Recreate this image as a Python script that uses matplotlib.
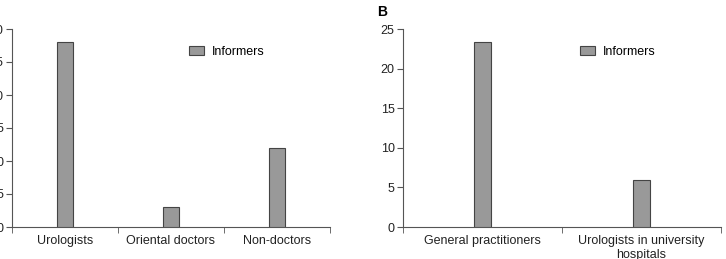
import numpy as np
import matplotlib.pyplot as plt

plt.rcParams['font.family'] = ['Liberation Sans', 'DejaVu Sans']

# Panel A
cats_a = ["Urologists", "Oriental doctors", "Non-doctors"]
vals_a = [28, 3, 12]
# Panel B
cats_b = ["General practitioners", "Urologists in university\nhospitals"]
vals_b = [23.4, 5.9]

bar_color = "#999999"
edge_color = "#444444"
axis_color = "#555555"

fig = plt.figure(figsize=(7.26, 2.59), dpi=100)
W, H = 726, 259
ax_a = fig.add_axes([12 / W, 1 - 227 / H, 318 / W, 198 / H])
ax_b = fig.add_axes([403 / W, 1 - 227 / H, 318 / W, 198 / H])


def draw(ax, cats, vals, ymax, width):
    x = np.arange(len(cats))
    ax.bar(x, vals, width=width, color=bar_color, edgecolor=edge_color,
           linewidth=0.8, label="Informers", zorder=3)
    ax.set_xlim(-0.5, len(cats) - 0.5)
    ax.set_ylim(0, ymax)
    ax.set_yticks(np.arange(0, ymax + 1, 5))
    ax.set_xticks(x)
    ax.set_xticklabels(cats, fontsize=9, color="#222222")
    ax.set_xticks(np.arange(len(cats) + 1) - 0.5, minor=True)
    ax.tick_params(axis="x", which="major", length=0, pad=6)
    ax.tick_params(axis="x", which="minor", length=4, color=axis_color, direction="out")
    ax.tick_params(axis="y", length=4, color=axis_color, labelsize=9,
                   labelcolor="#222222", pad=2)
    for s in ("top", "right"):
        ax.spines[s].set_visible(False)
    for s in ("left", "bottom"):
        ax.spines[s].set_color(axis_color)
        ax.spines[s].set_linewidth(0.8)
    ax.legend(loc="upper left", bbox_to_anchor=(0.52, 0.97), frameon=False,
              fontsize=9, handlelength=1.25, handleheight=0.75,
              handletextpad=0.6)


draw(ax_a, cats_a, vals_a, 30, 0.16)
draw(ax_b, cats_b, vals_b, 25, 0.107)
fig.text(382 / W, 1 - 12 / H, "B", fontsize=10, fontweight="bold",
         ha="center", va="center")

fig.savefig("out.png", dpi=100)
